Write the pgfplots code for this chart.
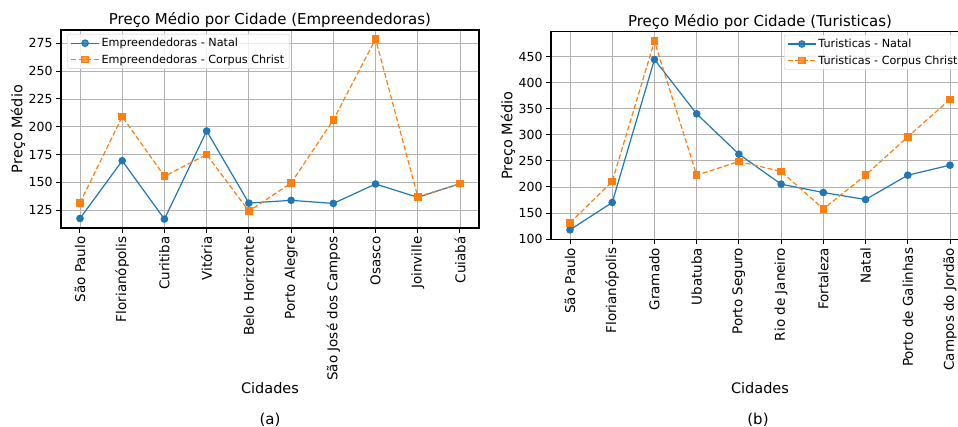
\documentclass[border=0pt]{standalone}
\usepackage{fontspec}
\setmainfont{DejaVu Sans}
\usepackage{pgfplots}
\pgfplotsset{compat=1.18}
\definecolor{mblue}{HTML}{1F77B4}
\definecolor{morange}{HTML}{FF7F0E}
\begin{document}
\begin{tikzpicture}
\path[use as bounding box] (0,0) rectangle (958pt,427pt);
\pgfplotsset{
 mystyle/.style={
  scale only axis, width=418pt,
  xmin=-0.45, xmax=9.45,
  xtick={0,...,9},
  tick align=outside, tick pos=left, major tick length=5pt,
  grid=major, grid style={color=black!30, line width=0.9pt},
  axis line style={line width=1.1pt},
  every tick/.style={black, line width=1pt},
  yticklabel style={font=\fontsize{12.5}{14}\selectfont},
  xticklabel style={font=\fontsize{13.5}{15}\selectfont, rotate=90, anchor=east},
  /pgf/number format/assume math mode=true,
  title style={font=\fontsize{15}{17}\selectfont, inner sep=2pt, yshift=-6pt},
  label style={font=\fontsize{14.5}{17}\selectfont},
  legend style={font=\fontsize{11.2}{13}\selectfont, draw=black!20, rounded corners=2pt, fill=white, fill opacity=0.8, text opacity=1, row sep=2.5pt},
  legend cell align=left,
  legend image code/.code={\draw[mark repeat=2, mark phase=2, ##1] plot coordinates {(0pt,0pt) (14pt,0pt) (28pt,0pt)};},
 },
 natal/.style={color=mblue, line width=1.2pt, solid, mark=*, mark size=3.2pt},
 corpus/.style={color=morange, line width=1.2pt, dash pattern=on 5pt off 2.5pt, mark=square*, mark size=3.2pt, mark options={solid}},
}
\begin{axis}[mystyle, height=198pt, at={(61pt,199pt)}, anchor=south west,
  ymin=108.9, ymax=287.1, ytick={125,150,...,275},
  xticklabels={São Paulo,Florianópolis,Curitiba,Vitória,Belo Horizonte,Porto Alegre,São José dos Campos,Osasco,Joinville,Cuiabá},
  title={Preço Médio por Cidade (Empreendedoras)},
  xlabel={Cidades}, ylabel={Preço Médio},
  xlabel style={at={(axis description cs:0.5,-0.8066)}, anchor=center},
  ylabel style={at={(axis description cs:-0.103,0.5)}, anchor=center},
  legend style={at={(0.015,0.98)}, anchor=north west}]
\addplot[natal] coordinates {(0,117.5) (1,169.4) (2,116.9) (3,196.2) (4,131.3) (5,133.8) (6,131.0) (7,148.5) (8,136.5) (9,148.8)};
\addlegendentry{Empreendedoras - Natal}
\addplot[corpus] coordinates {(0,131.6) (1,209.2) (2,155.5) (3,175.0) (4,124.1) (5,149.4) (6,206.2) (7,278.9) (8,137.0) (9,148.8)};
\addlegendentry{Empreendedoras - Corpus Christ}
\end{axis}
\begin{axis}[mystyle, height=207.6pt, at={(551pt,187.7pt)}, anchor=south west,
  ymin=99.8, ymax=497.5, ytick={100,150,...,450},
  xticklabels={São Paulo,Florianópolis,Gramado,Ubatuba,Porto Seguro,Rio de Janeiro,Fortaleza,Natal,Porto de Galinhas,Campos do Jordão},
  title={Preço Médio por Cidade (Turisticas)},
  xlabel={Cidades}, ylabel={Preço Médio},
  xlabel style={at={(axis description cs:0.5,-0.715)}, anchor=center},
  ylabel style={at={(axis description cs:-0.103,0.5)}, anchor=center},
  legend style={at={(0.985,0.985)}, anchor=north east}]
\addplot[natal] coordinates {(0,117.9) (1,170.3) (2,444.3) (3,340.1) (4,262.9) (5,205.4) (6,189.4) (7,176.0) (8,222.6) (9,241.8)};
\addlegendentry{Turisticas - Natal}
\addplot[corpus] coordinates {(0,131.3) (1,210.5) (2,479.4) (3,222.6) (4,248.8) (5,229.7) (6,158.1) (7,222.6) (8,296.1) (9,367.6)};
\addlegendentry{Turisticas - Corpus Christ}
\end{axis}
\node[font=\fontsize{15}{17}\selectfont] at (270pt,7pt) {(a)};
\node[font=\fontsize{15}{17}\selectfont] at (758pt,7pt) {(b)};
\end{tikzpicture}
\end{document}
